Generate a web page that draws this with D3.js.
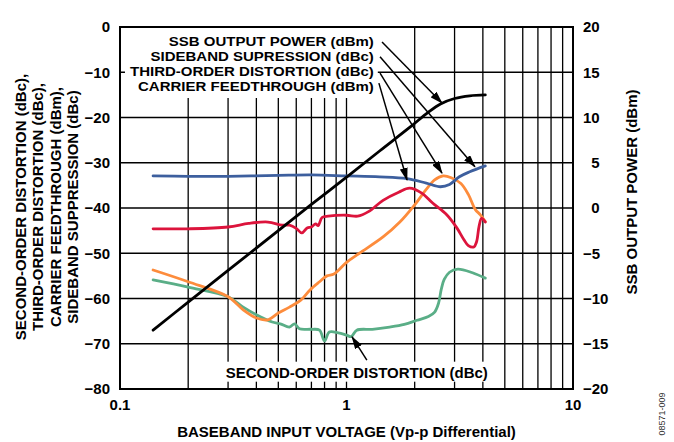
<!DOCTYPE html>
<html>
<head>
<meta charset="utf-8">
<script src="https://cdn.jsdelivr.net/npm/d3@7"></script>
<style>
  body { margin: 0; background: #fff; }
  svg { display: block; }
  text { font-family: "Liberation Sans", Arial, sans-serif; font-weight: bold; font-size: 15px; fill: #000; }
</style>
</head>
<body>
<div id="chart"></div>
<script>
// tick labels
const xTicks = [0.1, 1, 10];
const leftTicks = [0, -10, -20, -30, -40, -50, -60, -70, -80];
const rightTicks = [20, 15, 10, 5, 0, -5, -10, -15, -20];

// SSB output power (dBm, right axis)
const ssbVolts = [0.14, 0.2, 0.3, 0.5, 0.7, 1.0, 1.4, 1.9, 2.3, 2.6, 3.0, 3.5, 4.1];
const ssbPower = [-13.5, -10.4, -6.9, -2.5, 0.4, 3.4, 6.3, 8.9, 10.6, 11.5, 12.1, 12.4, 12.5];

// sideband suppression (dBc)
const sbVolts = [0.14, 0.2, 0.3, 0.5, 0.7, 1.0, 1.4, 1.85, 2.25, 2.6, 2.85, 3.15, 3.5, 4.1];
const sbSupp = [-32.9, -33.0, -33.0, -32.8, -32.7, -32.9, -33.1, -33.5, -34.5, -35.3, -34.8, -33.1, -32.0, -30.7];

// carrier feedthrough (dBm)
const cfVolts = [0.14, 0.2, 0.3, 0.37, 0.45, 0.52, 0.56, 0.6, 0.635, 0.67, 0.7, 0.73, 0.75, 0.78, 0.83, 1.0, 1.12, 1.25, 1.45, 1.7, 1.9, 2.15, 2.4, 2.77, 3.07, 3.3, 3.45, 3.65, 3.75, 3.85, 3.95, 4.1];
const cfLevel = [-44.6, -44.6, -44.2, -43.4, -43.1, -43.8, -43.8, -44.5, -45.5, -44.4, -44.2, -43.5, -43.9, -42.1, -41.8, -41.6, -41.8, -40.8, -38.3, -36.5, -35.6, -36.7, -38.9, -41.5, -44.4, -47.0, -48.3, -48.6, -47.5, -44.0, -42.3, -43.1];

// third-order distortion (dBc)
const hd3Volts = [0.14, 0.2, 0.3, 0.35, 0.4, 0.45, 0.5, 0.56, 0.63, 0.69, 0.76, 0.82, 0.88, 1.0, 1.14, 1.45, 1.72, 2.0, 2.24, 2.45, 2.67, 2.9, 3.2, 3.45, 3.7, 3.9, 4.1];
const hd3Level = [-53.7, -56.3, -59.6, -62.5, -64.3, -64.7, -63.2, -61.9, -60.3, -58.1, -56.3, -55.0, -54.6, -52.0, -50.0, -46.4, -43.1, -39.3, -36.0, -33.8, -32.9, -33.3, -34.6, -37.0, -40.3, -41.5, -43.0];

// second-order distortion (dBc)
const hd2Volts = [0.14, 0.2, 0.3, 0.35, 0.4, 0.47, 0.51, 0.56, 0.59, 0.62, 0.7, 0.76, 0.8, 0.84, 0.92, 1.0, 1.05, 1.11, 1.3, 1.55, 1.8, 2.05, 2.3, 2.45, 2.55, 2.62, 2.7, 2.85, 3.1, 3.6, 4.1];
const hd2Level = [-55.9, -57.5, -59.6, -61.9, -63.6, -65.2, -65.6, -66.3, -65.6, -66.7, -66.8, -67.0, -69.4, -67.4, -67.6, -68.1, -68.4, -67.0, -66.8, -66.3, -65.7, -64.8, -64.0, -63.0, -61.0, -58.0, -55.8, -54.2, -53.5, -54.3, -55.5];

// annotation labels (top block) and arrows [from, to] in (volts, left-axis dB)
const topLabels = ["SSB OUTPUT POWER (dBm)", "SIDEBAND SUPRESSION (dBc)", "THIRD-ORDER DISTORTION (dBc)", "CARRIER FEEDTHROUGH (dBm)"];
const topArrows = [
  [[1.435, -3.3], [2.64, -16.8]],
  [[1.406, -6.6], [3.69, -30.9]],
  [[1.406, -10.2], [2.64, -32.3]],
  [[1.39, -12.4], [1.85, -33.8]]
];
const hd2Arrow = [[1.23, -73.6], [1.058, -68.5]];
const leftTitle = ["SECOND-ORDER DISTORTION (dBc),", "THIRD-ORDER DISTORTION (dBc),", "CARRIER FEEDTHROUGH (dBm),", "SIDEBAND SUPPRESSION (dBc)"];

const width = 674, height = 442;
const margin = { top: 27, right: 101, bottom: 53, left: 120 };
const innerW = width - margin.left - margin.right;
const innerH = height - margin.top - margin.bottom;

const svg = d3.select("#chart").append("svg")
  .attr("width", width)
  .attr("height", height);

const defs = svg.append("defs");
defs.append("marker")
  .attr("id", "arrow")
  .attr("markerUnits", "userSpaceOnUse")
  .attr("markerWidth", 13).attr("markerHeight", 8)
  .attr("refX", 12).attr("refY", 4)
  .attr("orient", "auto")
  .append("path")
  .attr("d", "M0,0 L13,4 L0,8 Z")
  .attr("fill", "#000");

const g = svg.append("g").attr("transform", `translate(${margin.left},${margin.top})`);

const x = d3.scaleLog().domain([0.1, 10]).range([0, innerW]);
const yL = d3.scaleLinear().domain([-80, 0]).range([innerH, 0]);
const yR = d3.scaleLinear().domain([-20, 20]).range([innerH, 0]);

// grid
const gridX = [];
[0.1, 1].forEach(dec => { for (let k = 1; k <= 9; k++) gridX.push(dec * k); });
g.append("g").selectAll("line").data(gridX.slice(1)).join("line")
  .attr("x1", d => x(d)).attr("x2", d => x(d))
  .attr("y1", 0).attr("y2", innerH)
  .attr("stroke", "#000").attr("stroke-width", 1.3);
g.append("g").selectAll("line").data(leftTicks.slice(1, -1)).join("line")
  .attr("x1", 0).attr("x2", innerW)
  .attr("y1", d => yL(d)).attr("y2", d => yL(d))
  .attr("stroke", "#000").attr("stroke-width", 1.3);

// top annotation block with white background
// (smaller font stretched to the same width so the rows don't collide)
const topG = g.append("g");
const topText = topG.selectAll("text").data(topLabels).join("text")
  .attr("x", x(1.32))
  .attr("y", (d, i) => 19 + i * 15)
  .attr("text-anchor", "end")
  .style("font-size", "13.3px")
  .text(d => d);
topText.each(function () {
  const w = this.getComputedTextLength();
  d3.select(this).attr("textLength", w * 15 / 13.3).attr("lengthAdjust", "spacingAndGlyphs");
});
let bb = topG.node().getBBox();
topG.insert("rect", "text")
  .attr("x", bb.x - 5).attr("y", 1)
  .attr("width", bb.width + 9).attr("height", bb.y + bb.height + 3)
  .attr("fill", "#fff");

// bottom annotation
const botG = g.append("g");
botG.append("text")
  .attr("x", x(1.11)).attr("y", yL(-77.5))
  .attr("text-anchor", "middle")
  .text("SECOND-ORDER DISTORTION (dBc)");
bb = botG.node().getBBox();
botG.insert("rect", "text")
  .attr("x", bb.x - 3).attr("y", bb.y - 2)
  .attr("width", bb.width + 6).attr("height", bb.height + 3)
  .attr("fill", "#fff");

// curves
const lineL = d3.line().x(d => x(d[0])).y(d => yL(d[1])).curve(d3.curveCatmullRom.alpha(0.5));
const lineR = d3.line().x(d => x(d[0])).y(d => yR(d[1])).curve(d3.curveCatmullRom.alpha(0.5));
const zip = (a, b) => a.map((v, i) => [v, b[i]]);

const series = [
  { data: zip(hd2Volts, hd2Level), color: "#5aae87", gen: lineL },
  { data: zip(hd3Volts, hd3Level), color: "#fd8c3c", gen: lineL },
  { data: zip(cfVolts, cfLevel), color: "#dc143c", gen: lineL },
  { data: zip(sbVolts, sbSupp), color: "#3d5f9e", gen: lineL },
  { data: zip(ssbVolts, ssbPower), color: "#000", gen: lineR }
];
g.append("g").selectAll("path").data(series).join("path")
  .attr("d", d => d.gen(d.data))
  .attr("fill", "none")
  .attr("stroke", d => d.color)
  .attr("stroke-width", 2.8)
  .attr("stroke-linejoin", "round")
  .attr("stroke-linecap", "round");

// arrows
g.append("g").selectAll("line").data(topArrows.concat([hd2Arrow])).join("line")
  .attr("x1", d => x(d[0][0])).attr("y1", d => yL(d[0][1]))
  .attr("x2", d => x(d[1][0])).attr("y2", d => yL(d[1][1]))
  .attr("stroke", "#000").attr("stroke-width", 1.5)
  .attr("marker-end", "url(#arrow)");

// frame
g.append("rect")
  .attr("width", innerW).attr("height", innerH)
  .attr("fill", "none").attr("stroke", "#000").attr("stroke-width", 2);

// axes labels
g.append("g").selectAll("text").data(leftTicks).join("text")
  .attr("x", -10).attr("y", d => yL(d)).attr("dy", "0.35em")
  .attr("text-anchor", "end")
  .text(d => d3.format("")(d).replace("-", "\u2212"));

g.append("g").selectAll("text").data(rightTicks).join("text")
  .attr("x", d => innerW + 10 + (d >= 0 && d < 10 ? 8.3 : 0))
  .attr("y", d => yR(d)).attr("dy", "0.35em")
  .attr("text-anchor", "start")
  .text(d => String(d).replace("-", "\u2212"));

g.append("g").selectAll("text").data(xTicks).join("text")
  .attr("x", d => x(d)).attr("y", innerH + 20.5)
  .attr("text-anchor", "middle")
  .text(d => d);

g.append("text")
  .attr("x", x(1)).attr("y", innerH + 48)
  .attr("text-anchor", "middle")
  .text("BASEBAND INPUT VOLTAGE (Vp-p Differential)");

leftTitle.forEach((t, i) => {
  svg.append("text")
    .attr("transform", `translate(${26 + i * 17.4},207) rotate(-90)`)
    .attr("text-anchor", "middle")
    .text(t);
});

svg.append("text")
  .attr("transform", "translate(637,192) rotate(-90)")
  .attr("text-anchor", "middle")
  .text("SSB OUTPUT POWER (dBm)");

svg.append("text")
  .attr("transform", "translate(665,414) rotate(-90)")
  .attr("text-anchor", "middle")
  .style("font-weight", "normal")
  .style("font-size", "9px")
  .style("fill", "#333")
  .text("08571-009");
</script>
</body>
</html>
